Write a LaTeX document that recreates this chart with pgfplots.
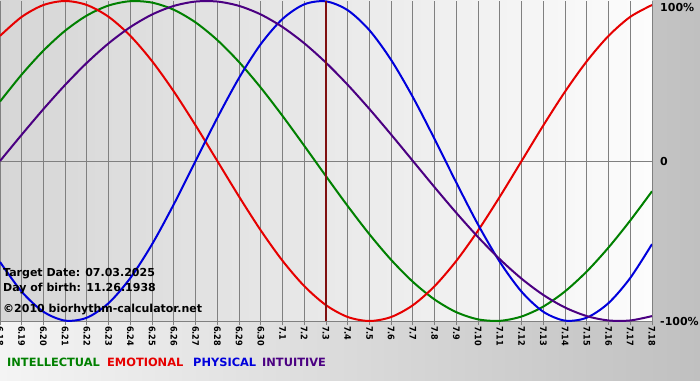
\documentclass[border=0pt]{standalone}
\usepackage{pgfplots}
\pgfplotsset{compat=1.18}
\usepackage{pgfplotstable}
\usepackage{fontspec}
\setmainfont{DejaVu Sans}
\newfontfamily\condfont{DejaVu Sans Condensed}
\definecolor{cInt}{RGB}{0,128,0}
\definecolor{cEmo}{RGB}{230,0,0}
\definecolor{cPhy}{RGB}{0,0,220}
\definecolor{cItu}{RGB}{75,0,130}
\definecolor{cTgt}{RGB}{128,16,16}
\definecolor{bgL}{RGB}{244,244,244}
\definecolor{bgR}{RGB}{192,192,192}
\definecolor{paL}{RGB}{214,214,214}
\definecolor{paR}{RGB}{252,252,252}
\definecolor{gridc}{RGB}{128,128,128}
\pgfplotstableread{
i phys emo int intu
0 -0.6310 0.7818 0.3717 0
1 -0.8170 0.9010 0.5406 0.1646
2 -0.9423 0.9749 0.6901 0.3247
3 -0.9977 1 0.8146 0.4759
4 -0.9791 0.9749 0.9096 0.6142
5 -0.8879 0.9010 0.9718 0.7357
6 -0.7308 0.7818 0.9989 0.8372
7 -0.5196 0.6235 0.9898 0.9158
8 -0.2698 0.4339 0.9450 0.9694
9 0 0.2225 0.8660 0.9966
10 0.2698 0 0.7557 0.9966
11 0.5196 -0.2225 0.6182 0.9694
12 0.7308 -0.4339 0.4582 0.9158
13 0.8879 -0.6235 0.2817 0.8372
14 0.9791 -0.7818 0.0951 0.7357
15 0.9977 -0.9010 -0.0951 0.6142
16 0.9423 -0.9749 -0.2817 0.4759
17 0.8170 -1 -0.4582 0.3247
18 0.6310 -0.9749 -0.6182 0.1646
19 0.3984 -0.9010 -0.7557 0
20 0.1362 -0.7818 -0.8660 -0.1646
21 -0.1362 -0.6235 -0.9450 -0.3247
22 -0.3984 -0.4339 -0.9898 -0.4759
23 -0.6310 -0.2225 -0.9989 -0.6142
24 -0.8170 0 -0.9718 -0.7357
25 -0.9423 0.2225 -0.9096 -0.8372
26 -0.9977 0.4339 -0.8146 -0.9158
27 -0.9791 0.6235 -0.6901 -0.9694
28 -0.8879 0.7818 -0.5406 -0.9966
29 -0.7308 0.9010 -0.3717 -0.9966
30 -0.5196 0.9749 -0.1893 -0.9694
}\bio
\begin{document}
\begin{tikzpicture}[x=1pt,y=1pt]
\useasboundingbox (0,0) rectangle (700,380);
\shade[left color=bgL, right color=bgR] (0,0) rectangle (700,380);
\begin{axis}[
  at={(0pt,59pt)}, anchor=south west,
  scale only axis, width=652pt, height=320pt,
  xmin=0, xmax=30, ymin=-1, ymax=1,
  axis background/.style={shade, left color=paL, right color=paR},
  axis line style={draw=none},
  xtick={0,...,30},
  xticklabels={6.18,6.19,6.20,6.21,6.22,6.23,6.24,6.25,6.26,6.27,6.28,6.29,6.30,7.1,7.2,7.3,7.4,7.5,7.6,7.7,7.8,7.9,7.10,7.11,7.12,7.13,7.14,7.15,7.16,7.17,7.18},
  xtick pos=bottom, tick align=outside,
  major tick length=4pt,
  x tick style={gridc, line width=1pt},
  xticklabel style={rotate=-90, anchor=west, inner sep=1pt, font=\condfont\bfseries\fontsize{9}{9}\selectfont},
  ytick={-1,0}, yticklabels={-100\%,0},
  extra y ticks={1}, extra y tick labels={100\%},
  extra y tick style={grid=none, yticklabel style={yshift=-6pt}},
  yticklabel pos=right, ytick pos=right,
  y tick style={draw=none},
  yticklabel style={anchor=west, inner sep=0pt, xshift=4pt, font=\bfseries\fontsize{11}{11}\selectfont},
  grid=major, grid style={gridc, line width=1pt},
  clip=true,
]
\addplot[cInt, line width=2pt, smooth] table[x=i, y=int] {\bio};
\addplot[cEmo, line width=2pt, smooth] table[x=i, y=emo] {\bio};
\addplot[cPhy, line width=2pt, smooth] table[x=i, y=phys] {\bio};
\addplot[cItu, line width=2pt, smooth] table[x=i, y=intu] {\bio};
\addplot[cTgt, line width=2pt] coordinates {(15,-1) (15,1)};
\end{axis}
\begin{scope}[every node/.style={inner sep=0pt, anchor=base west, font=\bfseries\fontsize{11}{11}\selectfont}]
\node at (3,103) {Target Date: 07.03.2025};
\node at (3,88.5) {Day of birth: 11.26.1938};
\node at (3,68) {©2010 biorhythm-calculator.net};
\end{scope}
\begin{scope}[every node/.style={inner sep=0pt, anchor=base west, font=\bfseries\fontsize{11.4}{11.4}\selectfont}]
\node[text=cInt] at (7,14) {INTELLECTUAL};
\node[text=cEmo] at (107,14) {EMOTIONAL};
\node[text=cPhy] at (193,14) {PHYSICAL};
\node[text=cItu] at (262,14) {INTUITIVE};
\end{scope}
\end{tikzpicture}
\end{document}
